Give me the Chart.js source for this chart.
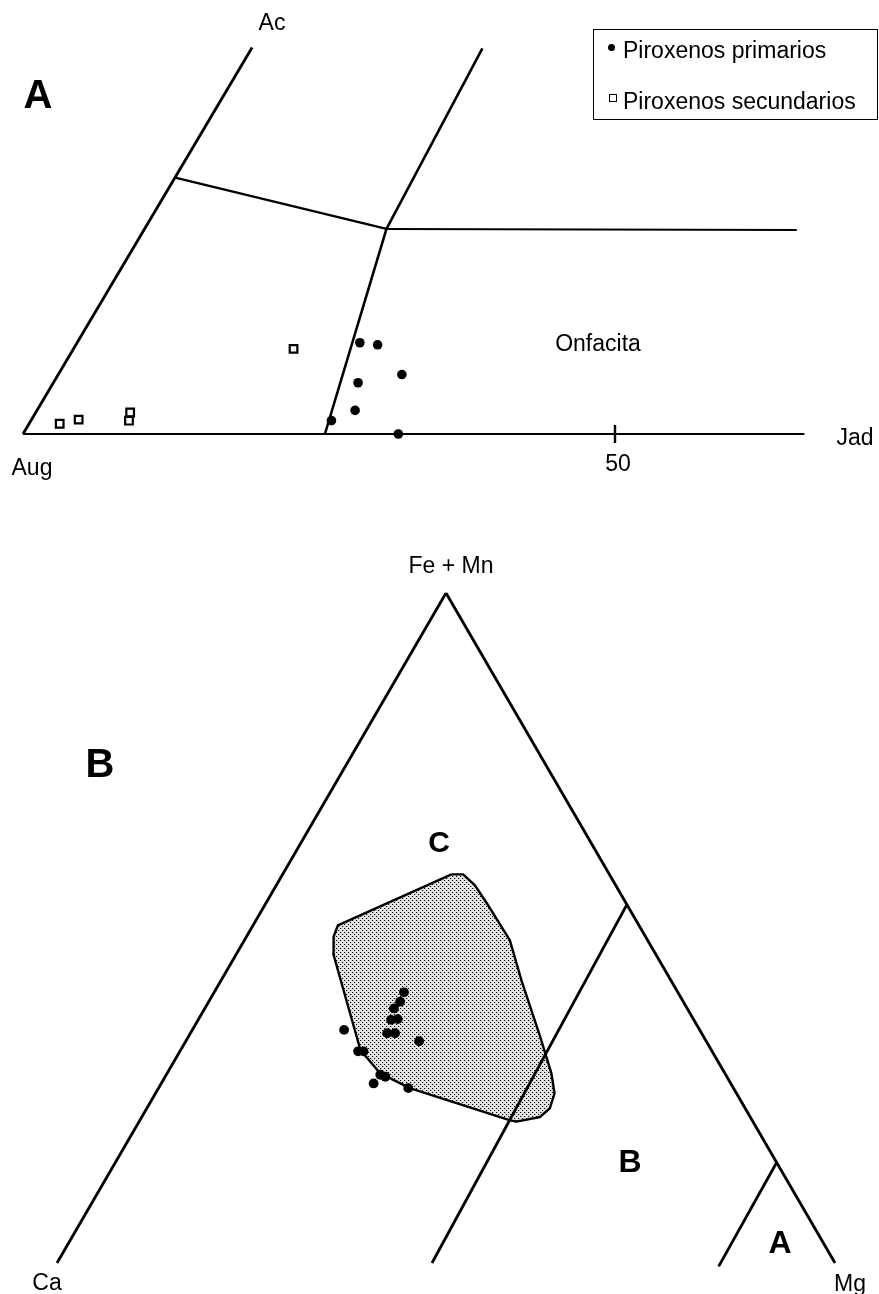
<!DOCTYPE html>
<html>
<head>
<meta charset="utf-8">
<script src="https://cdn.jsdelivr.net/npm/chart.js@4.4.1/dist/chart.umd.min.js"></script>
<style>
  html, body { margin: 0; padding: 0; background: #fff; }
  #page { position: relative; width: 879px; height: 1294px; overflow: hidden; background: #fff;
          font-family: "Liberation Sans", Arial, Helvetica, sans-serif; color: #000; }
  canvas { position: absolute; left: 0; }
  .lbl { position: absolute; transform: translate(-50%, -50%); white-space: nowrap; line-height: 1; font-size: 23px; }
  .big { font-weight: bold; }
  #legend { position: absolute; left: 593px; top: 29px; width: 285px; height: 91px; border: 1.6px solid #000; box-sizing: border-box; }
  .lrow { position: absolute; left: 29px; font-size: 23px; line-height: 1; white-space: nowrap; transform: translateY(-50%); }
  .mk { position: absolute; box-sizing: border-box; }
</style>
</head>
<body>
<div id="page">
  <canvas id="cA" width="879" height="500" style="top:0"></canvas>
  <canvas id="cB" width="879" height="794" style="top:500px"></canvas>

  <div class="lbl" style="left:272px;top:22px">Ac</div>
  <div class="lbl big" style="left:38px;top:94px;font-size:40px">A</div>
  <div class="lbl" style="left:32px;top:467px">Aug</div>
  <div class="lbl" style="left:618px;top:463px">50</div>
  <div class="lbl" style="left:855px;top:437px">Jad</div>
  <div class="lbl" style="left:598px;top:343px">Onfacita</div>

  <div id="legend">
    <div class="mk" style="left:14px;top:14px;width:7px;height:7px;border-radius:50%;background:#000"></div>
    <div class="lrow" style="top:20px">Piroxenos primarios</div>
    <div class="mk" style="left:15px;top:64px;width:8px;height:8px;border:1.8px solid #000;background:#fff"></div>
    <div class="lrow" style="top:71px">Piroxenos secundarios</div>
  </div>

  <div class="lbl" style="left:451px;top:565px">Fe + Mn</div>
  <div class="lbl big" style="left:100px;top:763px;font-size:40px">B</div>
  <div class="lbl big" style="left:439px;top:842px;font-size:30px">C</div>
  <div class="lbl big" style="left:630px;top:1161px;font-size:32px">B</div>
  <div class="lbl big" style="left:780px;top:1242px;font-size:32px">A</div>
  <div class="lbl" style="left:47px;top:1282px">Ca</div>
  <div class="lbl" style="left:850px;top:1283px">Mg</div>
</div>

<script>
// ---------------- Diagram A : Aug - Jad - Ac (values in %, Aug = remainder) ----------------
const primJad = [24.0, 25.6, 29.1, 25.8, 26.9, 25.4, 31.7];
const primAc  = [ 8.9,  8.7,  5.8,  5.0,  2.3,  1.3,  0.0];
const secJad  = [18.7, 2.6, 4.0, 8.0, 8.3];
const secAc   = [ 8.3, 1.0, 1.4, 2.1, 1.3];
const tickJad = [50];
const tickLabels = ['50'];
// field boundaries [Jad, Ac]
const edgeAugJad = [[0, 0], [66, 0]];
const edgeAugAc  = [[0, 0], [0.5, 37.7]];
const lineJd20   = [[20.7, 20.0], [20.0, 37.6]];
const lineAc20   = [[20.7, 20.0], [55.4, 19.9]];
const lineUpperA = [[0.35, 25.0], [20.7, 20.0]];
const lineLowerA = [[20.7, 20.0], [25.5, 0]];

// ---------------- Diagram B : Ca - Mg - (Fe+Mn) (values in %, Ca = remainder) ----------------
const grtFe = [40.4, 39.0, 38.0, 36.3, 36.4, 34.3, 34.3, 33.1, 34.8, 31.6, 31.6, 28.1, 27.8, 26.8, 26.1];
const grtMg = [24.4, 24.6, 24.3, 24.8, 25.6, 25.3, 26.3, 30.0, 19.5, 22.9, 23.6, 27.5, 28.3, 27.3, 32.1];
// field C outline
const fieldCFe = [58.0, 58.0, 56.4, 53.7, 48.2, 42.2, 33.8, 28.3, 25.3, 23.1, 21.8, 21.1, 21.3, 26.1, 28.3, 31.8, 46.2, 48.7, 50.4, 58.0];
const fieldCMg = [21.7, 23.2, 25.5, 28.4, 34.1, 38.6, 45.2, 49.4, 51.3, 51.8, 51.2, 48.5, 47.6, 32.3, 27.4, 23.1, 12.4, 11.2, 10.9, 21.7];
// boundaries [Fe+Mn, Mg]
const edgeCa = [[0, 0], [100, 0]];
const edgeMg = [[100, 0], [0, 100]];
const lineBC = [[53.5, 46.5], [0, 48.2]];
const lineAB = [[15.0, 85.0], [-0.5, 85.3]];

const SQ3_2 = Math.sqrt(3) / 2;
const projA = (jad, ac) => ({ x: jad + ac / 2, y: ac * SQ3_2 });
const projB = (fe, mg) => ({ x: mg + fe / 2, y: fe * SQ3_2 });

function lineSet(pairs, proj, width) {
  return {
    data: pairs.map(p => proj(p[0], p[1])),
    showLine: true, borderColor: '#000', borderWidth: width || 2.6,
    pointRadius: 0, fill: false, tension: 0, order: 2,
    borderCapStyle: 'butt', borderJoinStyle: 'round'
  };
}

const baseOpts = (xmin, xmax, ymin, ymax) => ({
  responsive: false,
  animation: false,
  events: [],
  layout: { padding: 0, autoPadding: false },
  plugins: { legend: { display: false }, tooltip: { enabled: false } },
  scales: {
    x: { type: 'linear', display: false, min: xmin, max: xmax },
    y: { type: 'linear', display: false, min: ymin, max: ymax }
  }
});

// Chart A
new Chart(document.getElementById('cA'), {
  type: 'scatter',
  data: {
    datasets: [
      { label: 'Piroxenos primarios', data: primJad.map((j, i) => projA(j, primAc[i])),
        pointStyle: 'circle', pointRadius: 4.8, pointBackgroundColor: '#000', pointBorderWidth: 0, order: 0 },
      { label: 'Piroxenos secundarios', data: secJad.map((j, i) => projA(j, secAc[i])),
        pointStyle: 'rect', pointRadius: 5.4, pointBackgroundColor: '#fff', pointBorderColor: '#000', pointBorderWidth: 2.2, order: 0 },
      { label: 'tick', data: tickJad.map(j => projA(j, 0)),
        pointStyle: 'line', rotation: 90, pointRadius: 9, pointBorderColor: '#000', pointBorderWidth: 2.4, order: 1 },
      lineSet(edgeAugJad, projA, 2.2),
      lineSet(edgeAugAc, projA, 2.8),
      lineSet(lineJd20, projA, 2.6),
      lineSet(lineAc20, projA, 2.0),
      lineSet(lineUpperA, projA, 2.4),
      lineSet(lineLowerA, projA, 2.6)
    ]
  },
  options: baseOpts(-23 / 11.84, 856 / 11.84, -66 / 11.84, 434 / 11.84)
});

// stipple pattern for field C
const pc = document.createElement('canvas');
pc.width = 4; pc.height = 4;
const pctx = pc.getContext('2d');
pctx.fillStyle = '#e4e4e4'; pctx.fillRect(0, 0, 4, 4);
pctx.fillStyle = '#000';
[[0, 0], [2, 2]].forEach(p => pctx.fillRect(p[0], p[1], 1, 1));
pctx.fillStyle = '#bbb';
[[1, 0], [3, 2]].forEach(p => pctx.fillRect(p[0], p[1], 1, 1));
const stipple = pctx.createPattern(pc, 'repeat');

// Chart B
new Chart(document.getElementById('cB'), {
  type: 'scatter',
  data: {
    datasets: [
      { label: 'Granates', data: grtFe.map((f, i) => projB(f, grtMg[i])),
        pointStyle: 'circle', pointRadius: 4.9, pointBackgroundColor: '#000', pointBorderWidth: 0, order: 0 },
      { label: 'Campo C', data: fieldCFe.map((f, i) => projB(f, fieldCMg[i])),
        showLine: true, fill: 'shape', backgroundColor: stipple, borderColor: '#000', borderWidth: 2.4,
        pointRadius: 0, tension: 0, order: 3, borderJoinStyle: 'round' },
      lineSet(edgeCa, projB, 2.8),
      lineSet(edgeMg, projB, 2.8),
      lineSet(lineBC, projB, 2.8),
      lineSet(lineAB, projB, 2.8)
    ]
  },
  options: baseOpts(-57 / 7.78, 822 / 7.78, -31 / 7.736, 763 / 7.736)
});
</script>
</body>
</html>
